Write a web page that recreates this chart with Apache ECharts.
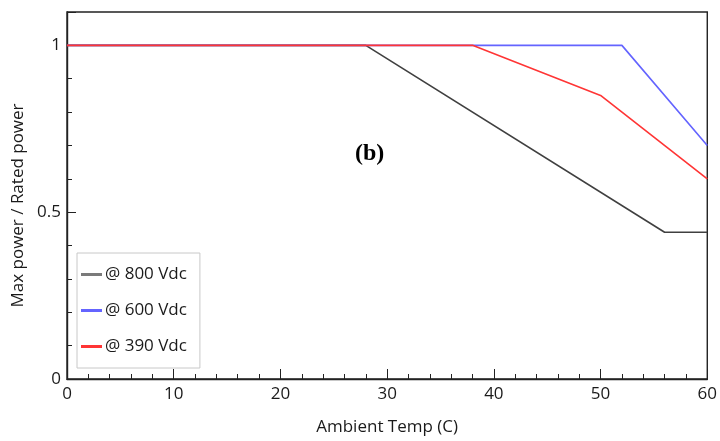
<!DOCTYPE html>
<html><head><meta charset="utf-8">
<script src="https://cdn.jsdelivr.net/npm/echarts@6/dist/echarts.min.js"></script>
<style>html,body{margin:0;padding:0;background:#fff}#c{width:720px;height:441px}</style>
</head><body><div id="c"></div>
<script>
const seriesNames = ['@ 800 Vdc', '@ 600 Vdc', '@ 390 Vdc'];
const temp800 = [0, 28, 56, 60];
const power800 = [1, 1, 0.44, 0.44];
const temp600 = [0, 52, 60];
const power600 = [1, 1, 0.7];
const temp390 = [0, 38, 50, 60];
const power390 = [1, 1, 0.85, 0.6];
const colors = ['#404040', '#6464ff', '#ff3535'];
const xName = 'Ambient Temp (C)';
const yName = 'Max power / Rated power';
const annotation = '(b)';

const pairs = (xs, ys) => xs.map((x, i) => [x, ys[i]]);
const font = "'Open Sans', 'Noto Sans', sans-serif";
const chart = echarts.init(document.getElementById('c'));
chart.setOption({
  animation: false,
  grid: { left: 67, right: 10, top: 12, bottom: 62, show: true, borderColor: '#222', borderWidth: 1.4, backgroundColor: '#fff' },
  xAxis: {
    type: 'value', min: 0, max: 60, interval: 10,
    name: xName, nameLocation: 'middle', nameGap: 40,
    nameTextStyle: { fontFamily: font, fontSize: 17, color: '#1a1a1a' },
    axisLine: { show: true, lineStyle: { color: '#222', width: 1.4 } },
    axisTick: { show: true, inside: true, length: 10, lineStyle: { color: '#222' } },
    minorTick: { show: true, splitNumber: 5, length: 5, lineStyle: { color: '#222' } },
    splitLine: { show: false },
    axisLabel: { fontFamily: font, fontSize: 17, color: '#1a1a1a', margin: 7 }
  },
  yAxis: {
    type: 'value', min: 0, max: 1.1, interval: 0.5,
    name: yName, nameLocation: 'middle', nameGap: 38,
    nameTextStyle: { fontFamily: font, fontSize: 17, color: '#1a1a1a', padding: [0, 20, 0, 0] },
    axisLine: { show: true, lineStyle: { color: '#222', width: 1.4 } },
    axisTick: { show: true, inside: true, length: 9, lineStyle: { color: '#222' } },
    minorTick: { show: true, splitNumber: 5, length: 5, lineStyle: { color: '#222' } },
    splitLine: { show: false },
    axisLabel: { fontFamily: font, fontSize: 17, color: '#1a1a1a', margin: 6, showMaxLabel: false }
  },
  legend: {
    orient: 'vertical', left: 77, top: 253,
    padding: [13, 13, 13, 4],
    itemGap: 19,
    itemWidth: 21, itemHeight: 3,
    backgroundColor: '#fff', borderColor: '#c8c8c8', borderWidth: 1,
    textStyle: { fontFamily: font, fontSize: 17, color: '#1a1a1a', padding: [0, 0, 0, -2] },
    data: seriesNames.map(n => ({ name: n, icon: 'rect' }))
  },
  graphic: [{
    type: 'text', left: 355, top: 142,
    style: { text: annotation, font: "bold 24px 'Liberation Serif', serif", fill: '#000' }
  }],
  series: [
    { name: seriesNames[0], type: 'line', data: pairs(temp800, power800), showSymbol: false, lineStyle: { color: colors[0], width: 1.6 }, itemStyle: { color: '#7a7a7a' } },
    { name: seriesNames[1], type: 'line', data: pairs(temp600, power600), showSymbol: false, lineStyle: { color: colors[1], width: 1.6 }, itemStyle: { color: colors[1] } },
    { name: seriesNames[2], type: 'line', data: pairs(temp390, power390), showSymbol: false, lineStyle: { color: colors[2], width: 1.6 }, itemStyle: { color: colors[2] } }
  ]
});
</script></body></html>
